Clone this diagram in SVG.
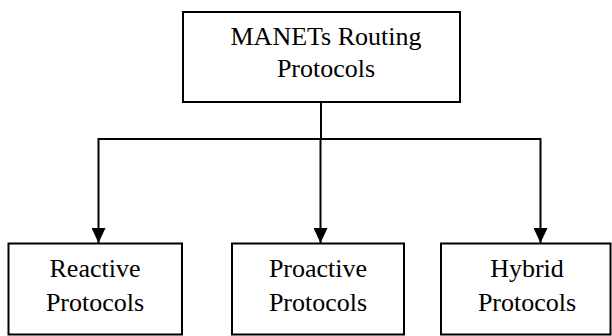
<svg xmlns="http://www.w3.org/2000/svg" width="612" height="336" viewBox="0 0 612 336">
  <defs>
    <marker id="arrow" viewBox="0 0 15 14" refX="15" refY="7" markerWidth="15" markerHeight="14" markerUnits="userSpaceOnUse" orient="auto">
      <path d="M0,0 L15,7 L0,14 Z" fill="#000"/>
    </marker>
  </defs>
  <style>
    .box { fill: #fff; stroke: #000; stroke-width: 2; }
    .label { font-size: 26px; fill: #000; text-anchor: middle; }
    .conn { fill: none; stroke: #000; stroke-width: 2; }
  </style>
  <rect width="612" height="336" fill="#fff"/>
  <g id="connectors">
    <path class="conn" d="M321,102 V139"/>
    <path class="conn" d="M98.5,139 H540.5"/>
    <path class="conn" d="M98.5,138 V243" marker-end="url(#arrow)"/>
    <path class="conn" d="M320.5,139 V243" marker-end="url(#arrow)"/>
    <path class="conn" d="M540.5,138 V243" marker-end="url(#arrow)"/>
  </g>
  <g font-family="'Liberation Serif', 'DejaVu Serif', serif">
    <g id="root">
      <rect class="box" x="183" y="12" width="277" height="90"/>
      <text class="label" x="326" y="45">MANETs Routing</text>
      <text class="label" x="326" y="77">Protocols</text>
    </g>
    <g id="reactive">
      <rect class="box" x="8.5" y="243.5" width="173.5" height="91"/>
      <text class="label" x="95" y="277">Reactive</text>
      <text class="label" x="95" y="311">Protocols</text>
    </g>
    <g id="proactive">
      <rect class="box" x="232" y="243.5" width="172" height="91"/>
      <text class="label" x="318" y="277">Proactive</text>
      <text class="label" x="318" y="311">Protocols</text>
    </g>
    <g id="hybrid">
      <rect class="box" x="441" y="243.5" width="169.5" height="91"/>
      <text class="label" x="527" y="277">Hybrid</text>
      <text class="label" x="527" y="311">Protocols</text>
    </g>
  </g>
</svg>
